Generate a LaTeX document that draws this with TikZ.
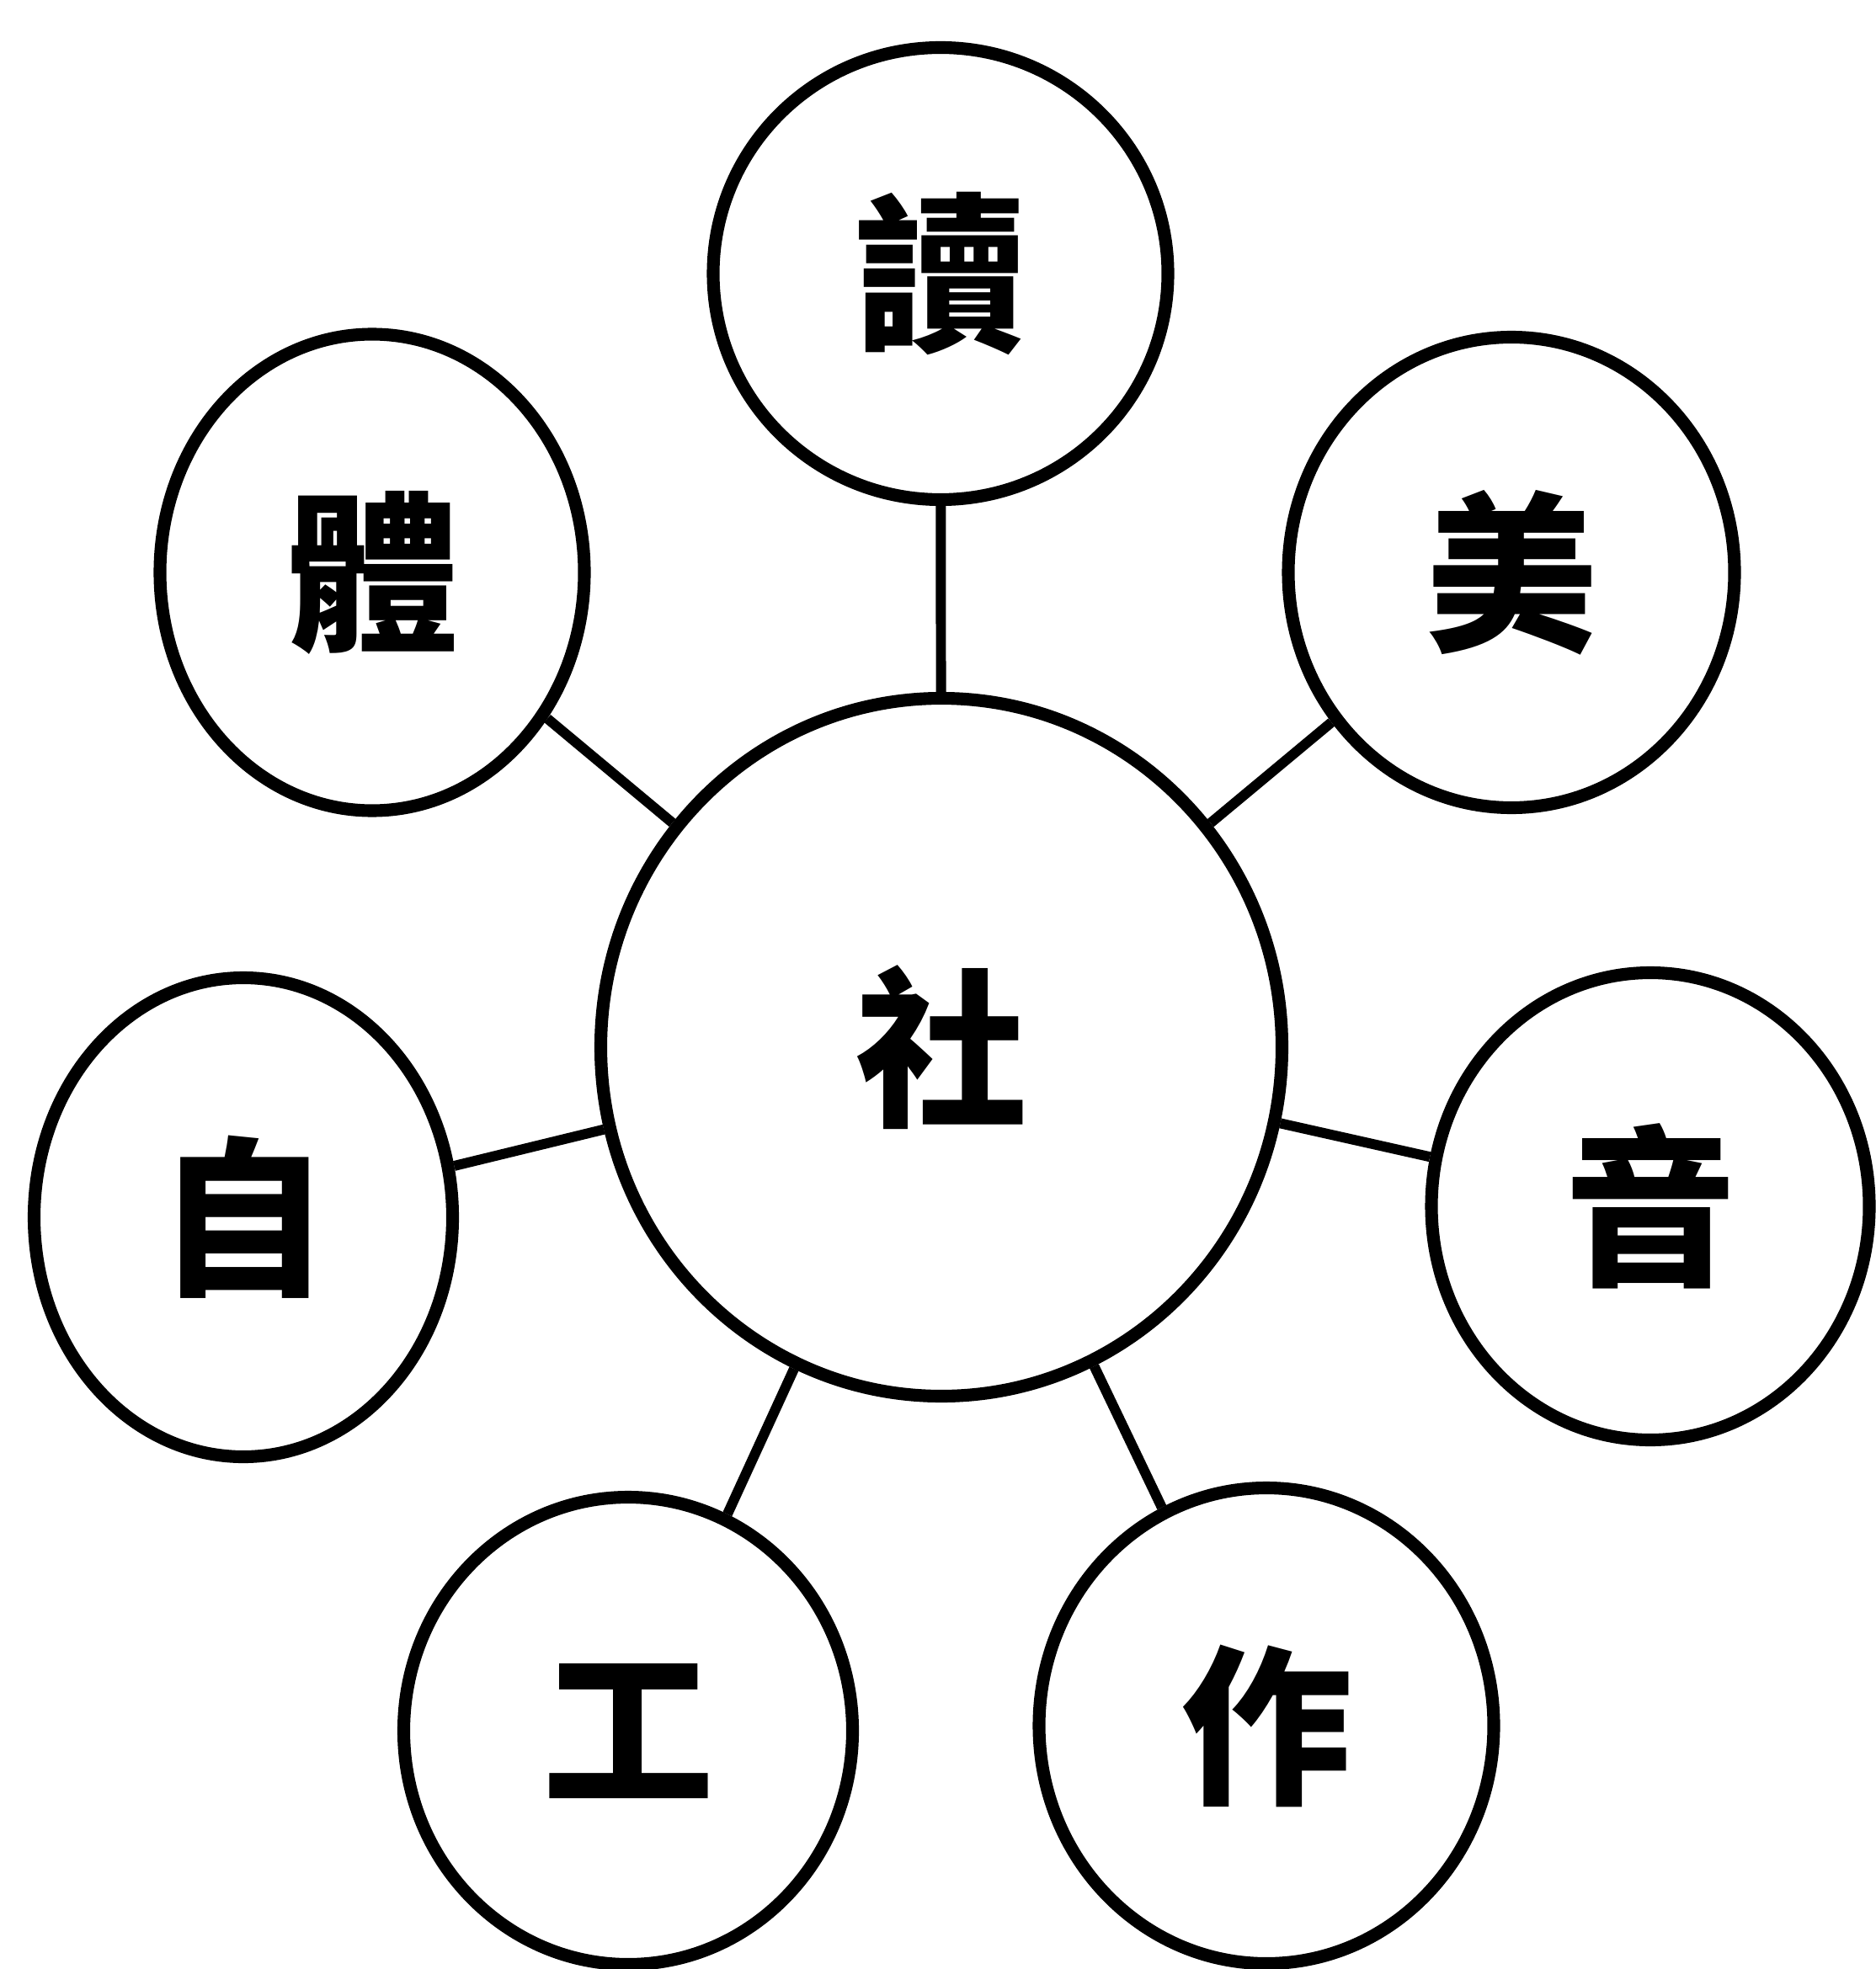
\documentclass[tikz,border=0pt]{standalone}
\usepackage{fontspec}
\newfontfamily\cjk{Noto Sans CJK TC}
\usetikzlibrary{shapes.geometric}
\tikzset{
  ring/.style={draw,ellipse,line width=4.3pt,inner sep=0pt,
    font=\cjk\bfseries\fontsize{58}{58}\selectfont},
  link/.style={line width=3.4pt}
}
\begin{document}
\begin{tikzpicture}
  \useasboundingbox (0,0) rectangle (22.27,-23.39);
  % centre
  \node[ring,minimum width=8.09cm,minimum height=8.29cm] (she) at (11.18,-12.44) {社};
  % satellites: name/x/y/width/height/char
  \foreach \nm/\x/\y/\w/\h/\ch in {
      du/11.17/-3.25/5.40/5.37/讀,
      mei/17.95/-6.80/5.30/5.59/美,
      yin/19.60/-14.33/5.20/5.55/音,
      zuo/15.04/-20.50/5.40/5.65/作,
      gong/7.46/-20.56/5.33/5.55/工,
      zi/2.89/-14.46/4.97/5.69/自,
      ti/4.42/-6.80/5.04/5.66/體}
    \node[ring,minimum width=\w cm,minimum height=\h cm] (\nm) at (\x,\y) {\ch};
  \foreach \nm in {du,mei,yin,zuo,gong,zi,ti}
    \draw[link] (she) -- (\nm);
\end{tikzpicture}
\end{document}
